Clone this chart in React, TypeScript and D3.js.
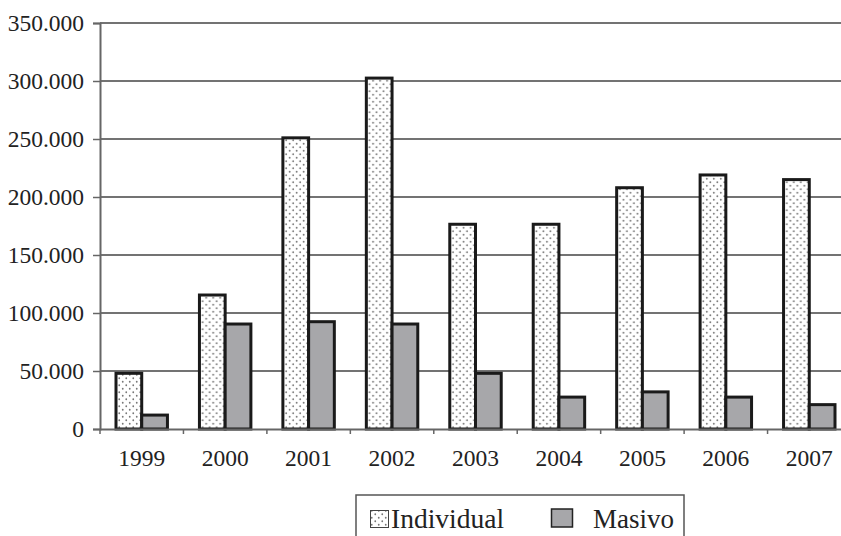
import { useRef, useEffect } from 'react'
import * as d3 from 'd3'

const years = ['1999', '2000', '2001', '2002', '2003', '2004', '2005', '2006', '2007']
const individual = [48000, 115500, 251000, 302500, 176500, 176500, 208000, 219000, 215000]
const masivo = [12000, 90500, 92500, 90500, 48000, 27500, 32000, 27500, 21000]
const yTicks = [0, 50000, 100000, 150000, 200000, 250000, 300000, 350000]
const seriesNames = ['Individual', 'Masivo']

const FONT = '"Liberation Serif", "DejaVu Serif", serif'

export default function App() {
  const svgRef = useRef<SVGSVGElement>(null)

  useEffect(() => {
    document.body.style.margin = '0'
    if (!svgRef.current) return
    const svg = d3.select(svgRef.current)
    svg.selectAll('*').remove()

    const width = 841
    const height = 536
    const margin = { top: 23, left: 100 }
    const plotW = 751
    const plotH = 406

    const defs = svg.append('defs')
    const pat = defs.append('pattern')
      .attr('id', 'dots')
      .attr('patternUnits', 'userSpaceOnUse')
      .attr('width', 7).attr('height', 7)
    pat.append('rect').attr('width', 7).attr('height', 7).attr('fill', '#fff')
    pat.append('circle').attr('cx', 1.75).attr('cy', 1.75).attr('r', 0.9).attr('fill', '#777')
    pat.append('circle').attr('cx', 5.25).attr('cy', 5.25).attr('r', 0.9).attr('fill', '#777')

    svg.append('rect').attr('width', width).attr('height', height).attr('fill', '#fff')

    const g = svg.append('g').attr('transform', `translate(${margin.left},${margin.top})`)

    const x = d3.scaleBand<string>().domain(years).range([0, plotW])
    const x1 = d3.scaleBand<string>().domain(seriesNames).range([16, x.bandwidth() - 16])
    const y = d3.scaleLinear().domain([0, 350000]).range([plotH, 0])

    // gridlines
    g.selectAll('.grid')
      .data(yTicks.filter((t) => t > 0))
      .join('line')
      .attr('x1', 0).attr('x2', plotW)
      .attr('y1', (d) => y(d)).attr('y2', (d) => y(d))
      .attr('stroke', '#444').attr('stroke-width', 1.3)

    // y axis
    const yAxis = d3.axisLeft(y).tickValues(yTicks).tickSize(7).tickPadding(9)
      .tickFormat((d) => d3.format(',')(d as number).replace(/,/g, '.'))
    g.append('g')
      .call(yAxis)
      .call((a) => a.select('.domain').attr('stroke', '#666').attr('stroke-width', 2))
      .call((a) => a.selectAll('.tick line').attr('stroke', '#666').attr('stroke-width', 1.5))
      .call((a) => a.selectAll('.tick text').attr('fill', '#222').attr('font-size', 23.5).attr('font-family', FONT))

    // bars
    const groups = g.selectAll('.grp')
      .data(years)
      .join('g')
      .attr('transform', (d) => `translate(${x(d)},0)`)

    groups.append('rect')
      .attr('x', x1('Individual')!)
      .attr('width', x1.bandwidth())
      .attr('y', (_d, i) => y(individual[i]))
      .attr('height', (_d, i) => plotH - y(individual[i]))
      .attr('fill', 'url(#dots)')
      .attr('stroke', '#1a1a1a').attr('stroke-width', 3)

    groups.append('rect')
      .attr('x', x1('Masivo')!)
      .attr('width', x1.bandwidth())
      .attr('y', (_d, i) => y(masivo[i]))
      .attr('height', (_d, i) => plotH - y(masivo[i]))
      .attr('fill', '#a7a7aa')
      .attr('stroke', '#1a1a1a').attr('stroke-width', 3)

    // x axis
    const xAxis = d3.axisBottom(x).tickSize(0).tickPadding(20)
    g.append('g')
      .attr('transform', `translate(0,${plotH})`)
      .call(xAxis)
      .call((a) => a.select('.domain').attr('stroke', '#666').attr('stroke-width', 2))
      .call((a) => a.selectAll('.tick text').attr('fill', '#222').attr('font-size', 23.5).attr('font-family', FONT))

    // boundary ticks
    g.selectAll('.xb')
      .data(years)
      .join('line')
      .attr('x1', (d) => x(d)!).attr('x2', (d) => x(d)!)
      .attr('y1', plotH).attr('y2', plotH + 5)
      .attr('stroke', '#666').attr('stroke-width', 1.5)

    // legend
    const lg = svg.append('g').attr('transform', 'translate(356,495)')
    lg.append('rect').attr('width', 328).attr('height', 50)
      .attr('fill', '#fff').attr('stroke', '#555').attr('stroke-width', 1.5)
    lg.append('rect').attr('x', 14.5).attr('y', 15.5).attr('width', 18).attr('height', 17)
      .attr('fill', 'url(#dots)').attr('stroke', '#444').attr('stroke-width', 1)
    lg.append('text').attr('x', 35).attr('y', 33).text('Individual')
      .attr('font-size', 27.5).attr('font-family', FONT).attr('fill', '#222')
    lg.append('rect').attr('x', 195.5).attr('y', 14).attr('width', 21).attr('height', 18)
      .attr('fill', '#a7a7aa').attr('stroke', '#222').attr('stroke-width', 1.5)
    lg.append('text').attr('x', 237).attr('y', 33).text('Masivo')
      .attr('font-size', 27).attr('font-family', FONT).attr('fill', '#222')
  }, [])

  return <svg ref={svgRef} width={841} height={536} style={{ display: 'block' }} />
}
